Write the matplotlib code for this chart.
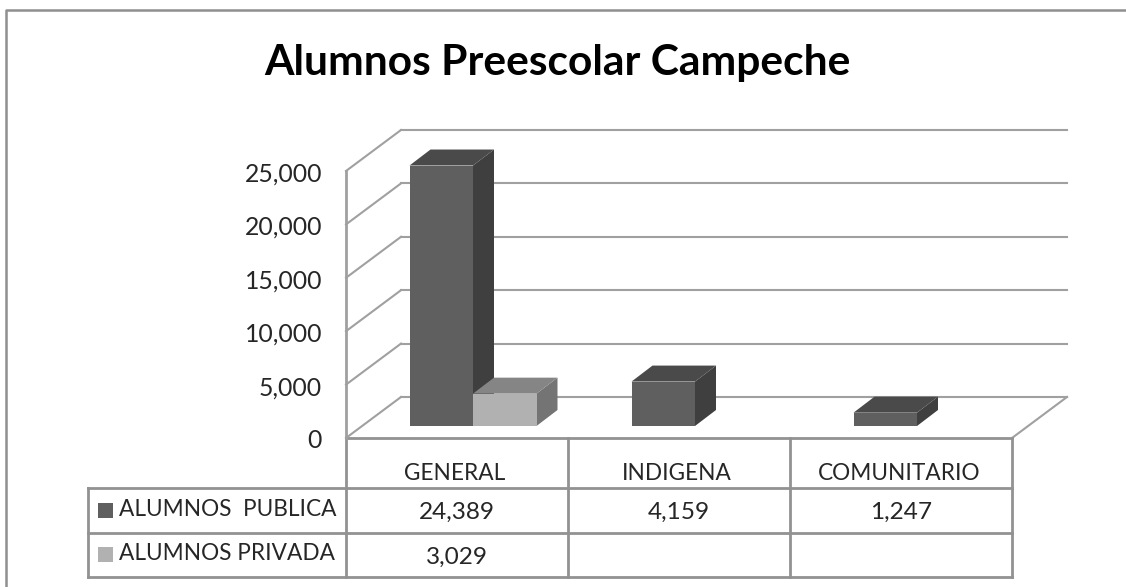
#!/usr/bin/env python3
# -*- coding: utf-8 -*-
"""Alumnos Preescolar Campeche - fake 3D column chart with data table"""

import matplotlib
matplotlib.use('Agg')
import matplotlib.pyplot as plt
from matplotlib.patches import Polygon, Rectangle
from matplotlib.transforms import Affine2D

plt.rcParams['font.family'] = ['Lato', 'DejaVu Sans']

categories = ['GENERAL', 'INDIGENA', 'COMUNITARIO']
publica = [24389, 4159, 1247]
privada = [3029, None, None]
series_names = ['ALUMNOS  PUBLICA', 'ALUMNOS PRIVADA']
y_ticks = [0, 5000, 10000, 15000, 20000, 25000]

W, H = 1126, 587
LINE = '#a0a0a0'
TABLE_LINE = '#929292'
TEXT = '#262626'

fig = plt.figure(figsize=(W / 100, H / 100), dpi=100)
bg = fig.add_axes([0, 0, 1, 1])
bg.set_xlim(0, W)
bg.set_ylim(H, 0)
bg.axis('off')

# front plane of the chart: x in category units, y in values
ax = fig.add_axes([346 / W, 1 - 438 / H, 666 / W, 267 / H])
ax.set_xlim(0, 3)
ax.set_ylim(0, 25000)
ax.axis('off')

px_x = 666 / 3       # pixels per category
px_y = 267 / 25000   # pixels per value
BAR_W = 63.5 / px_x


def shifted(dx, dy):
    return ax.transData + Affine2D().translate(dx, dy)


# walls and gridlines
DX, DY = 55, 41
for v in y_ticks:
    ax.plot([0, DX / px_x], [v, v + DY / px_y], color=LINE, lw=1.5, clip_on=False, zorder=1)
    ax.plot([0, 3], [v, v], color=LINE, lw=1.5, clip_on=False, zorder=1,
            transform=shifted(DX, DY))
ax.plot([0, 0], [0, 25000], color=LINE, lw=2, clip_on=False)
ax.plot([3, 3 + DX / px_x], [0, DY / px_y], color=LINE, lw=1.5, clip_on=False, zorder=1)
ax.plot([0, 3], [0, 0], color=TABLE_LINE, lw=2, clip_on=False, zorder=1)


def bar3d(left, value, front, side, top, z):
    # front face through ax.bar, side and top faces follow its corners
    off_x, off_y = 16, 12
    depth_x, depth_y = 21 / px_x, 16 / px_y
    ax.bar(left, value, BAR_W, align='edge', color=front, zorder=z + 1, clip_on=False,
           transform=shifted(off_x, off_y))
    r = left + BAR_W
    ax.add_patch(Polygon([(r, 0), (r + depth_x, depth_y), (r + depth_x, value + depth_y), (r, value)],
                         fc=side, ec='none', zorder=z, clip_on=False, transform=shifted(off_x, off_y)))
    ax.add_patch(Polygon([(left, value), (left + depth_x, value + depth_y),
                          (r + depth_x, value + depth_y), (r, value)],
                         fc=top, ec='none', zorder=z, clip_on=False, transform=shifted(off_x, off_y)))


# public first, the private bar sits over its side face
for i, (pub, pri) in enumerate(zip(publica, privada)):
    center = i + 0.5
    bar3d(center - BAR_W, pub, '#5f5f5f', '#3f3f3f', '#4a4a4a', 2)
    if pri is not None:
        bar3d(center, pri, '#b1b1b1', '#747474', '#858585', 4)

# y tick labels
for v in y_ticks:
    ax.annotate(f'{v:,}', (0, v), xytext=(-24, -3), textcoords='offset pixels',
                ha='right', va='center', fontsize=17.8, color=TEXT, annotation_clip=False)

# data table
col_x = [346, 568, 790, 1012]
row_y = [438, 488, 533, 577]
for y in row_y[1:]:
    bg.plot([88, 1012], [y, y], color=TABLE_LINE, lw=2)
bg.plot([88, 88], [row_y[1], row_y[3]], color=TABLE_LINE, lw=2)
for x in col_x:
    bg.plot([x, x], [row_y[0], row_y[3]], color=TABLE_LINE, lw=2)

for i, name in enumerate(categories):
    bg.text((col_x[i] + col_x[i + 1]) / 2 - 2, 474, name, ha='center', va='center', fontsize=16.3, color=TEXT)

for r, (name, vals, col) in enumerate(zip(series_names, [publica, privada], ['#5f5f5f', '#b1b1b1'])):
    yc = (row_y[r + 1] + row_y[r + 2]) / 2
    bg.add_patch(Rectangle((98, yc - 8), 15, 15, fc=col, ec='none'))
    bg.text(119, yc - 1, name, ha='left', va='center', fontsize=16.3, color=TEXT)
    for i, v in enumerate(vals):
        if v is not None:
            bg.text((col_x[i] + col_x[i + 1]) / 2, yc + 2, f'{v:,}', ha='center', va='center',
                    fontsize=17.6, color=TEXT)

# title and outer frame (no right or bottom edge in the source)
bg.text(557, 63, 'Alumnos Preescolar Campeche', ha='center', va='center', fontsize=30.6,
        fontweight='bold', color='black')
bg.plot([6, 6, W], [H, 10, 10], color='#8f8f8f', lw=1.8)

fig.savefig('out.png', dpi=100, facecolor='white')
